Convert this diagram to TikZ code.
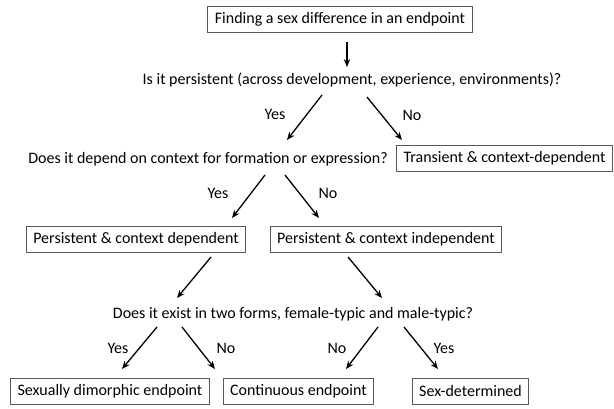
\documentclass[tikz,border=0pt]{standalone}
\usepackage{fontspec}
\setmainfont{Carlito}
\usetikzlibrary{arrows.meta}
\begin{document}
\begin{tikzpicture}[>={Stealth[length=8pt,width=6.5pt]}, x=1pt, y=-1pt, font=\fontsize{16}{19}\selectfont,
    box/.style={draw=black!65, line width=0.9pt, inner xsep=7pt, minimum height=26pt},
    arr/.style={->, line width=1.3pt}]
    \useasboundingbox (0,0) rectangle (614,408);
    % questions and outcomes
    \node[box] (find) at (340,19.5) {Finding a sex difference in an endpoint};
    \node (persist) at (352,80) {Is it persistent (across development, experience, environments)?};
    \node (context) at (208,159) {Does it depend on context for formation or expression?};
    \node[box] (trans) at (504.5,158.5) {Transient \& context-dependent};
    \node[box] (pcd) at (136,239.5) {Persistent \& context dependent};
    \node[box] (pci) at (386,239.5) {Persistent \& context independent};
    \node (forms) at (293,314) {Does it exist in two forms, female-typic and male-typic?};
    \node[box] (dimorph) at (110,391) {Sexually dimorphic endpoint};
    \node[box] (contin) at (298.5,391) {Continuous endpoint};
    \node[box] (sexdet) at (470.5,391) {Sex-determined};
    % arrow ends
    \coordinate (find-s) at (347,42);   \coordinate (persist-n) at (347,67);
    \coordinate (persist-sw) at (322,95); \coordinate (context-ne) at (287,140);
    \coordinate (persist-se) at (367,97); \coordinate (trans-n) at (402,140);
    \coordinate (context-sw) at (265,175); \coordinate (pcd-n) at (232,218);
    \coordinate (context-se) at (285,175); \coordinate (pci-n) at (319,218);
    \coordinate (pcd-s) at (211,257);   \coordinate (forms-nw) at (177,298);
    \coordinate (pci-s) at (348,257);   \coordinate (forms-ne) at (382,298);
    \coordinate (forms-sw1) at (157,327); \coordinate (dimorph-n) at (122,369);
    \coordinate (forms-sw2) at (182,327); \coordinate (contin-nw) at (215,369);
    \coordinate (forms-se1) at (378,327); \coordinate (contin-ne) at (346,369);
    \coordinate (forms-se2) at (404,327); \coordinate (sexdet-n) at (438,369);
    \draw[arr] (find-s)--(persist-n);
    \draw[arr] (persist-sw)--(context-ne);
    \draw[arr] (persist-se)--(trans-n);
    \draw[arr] (context-sw)--(pcd-n);
    \draw[arr] (context-se)--(pci-n);
    \draw[arr] (pcd-s)--(forms-nw);
    \draw[arr] (pci-s)--(forms-ne);
    \draw[arr] (forms-sw1)--(dimorph-n);
    \draw[arr] (forms-sw2)--(contin-nw);
    \draw[arr] (forms-se1)--(contin-ne);
    \draw[arr] (forms-se2)--(sexdet-n);
    % yes / no labels
    \node (yes1) at (275,114) {Yes};
    \node (no1) at (412,115) {No};
    \node (yes2) at (218,193) {Yes};
    \node (no2) at (328,193) {No};
    \node (yes3) at (118,348) {Yes};
    \node (no3) at (226,348) {No};
    \node (no4) at (337,348) {No};
    \node (yes4) at (444,348) {Yes};
\end{tikzpicture}
\end{document}
